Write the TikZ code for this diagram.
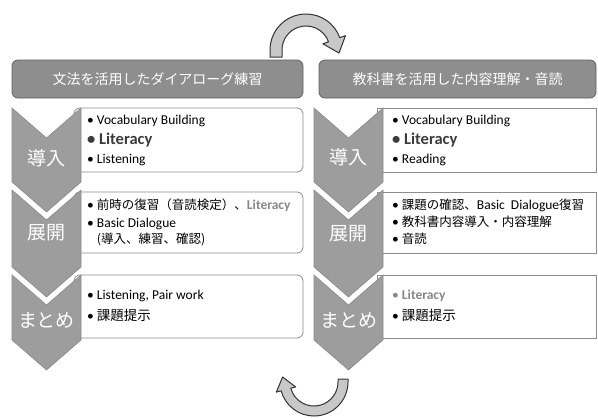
\documentclass[tikz,border=0pt]{standalone}
\usepackage{fontspec}
\setmainfont{Carlito}
\newfontfamily\jp{Noto Sans CJK JP}
\usepackage{xcolor}
\usepackage{tikz}
\usetikzlibrary{positioning,calc}

\definecolor{headfill}{HTML}{8E8E8E}
\definecolor{headline}{HTML}{5F5F5F}
\definecolor{chevfill}{HTML}{9D9D9D}
\definecolor{chevline}{HTML}{8A8A8A}
\definecolor{boxline}{HTML}{8C8C8C}
\definecolor{litdark}{HTML}{3C3C3C}
\definecolor{litgray}{HTML}{888888}
\definecolor{turnfill}{HTML}{C8C8C8}
\definecolor{turnline}{HTML}{333333}

\begin{document}
\begin{tikzpicture}[x=1pt, y=-1pt,
    head/.style={draw=headline, fill=headfill, rounded corners=6pt, minimum height=38pt, line width=0.8pt, text=white, font=\jp\fontsize{14}{16}\selectfont},
    lbox/.style={draw=boxline, fill=white, rounded corners=6pt, minimum width=229pt, line width=0.8pt},
    rbox/.style={draw=boxline, fill=white, minimum width=219pt, line width=0.8pt},
    chev/.style={fill=chevfill, draw=chevline, line width=0.6pt},
    stage/.style={text=white, font=\jp\fontsize{19}{22}\selectfont},
    item/.style={anchor=west, inner sep=0pt, font=\fontsize{13.5}{16}\selectfont},
    bigitem/.style={item, font=\fontsize{16.5}{18}\selectfont\bfseries, text=litdark},
    turn/.style={fill=turnfill, draw=turnline, line width=1pt, line join=round}
]
\useasboundingbox (0,0) rectangle (598,418);

% Headers
\node[head, minimum width=291pt] (lhead) at (157.5,79) {文法を活用したダイアローグ練習};
\node[head, minimum width=277pt] (rhead) at (457.5,79) {教科書を活用した内容理解・音読};

% Boxes
\node[lbox, minimum height=64pt] (lbox1) at (188.5,140) {};
\node[lbox, minimum height=61pt] (lbox2) at (188.5,222.5) {};
\node[lbox, minimum height=63pt] (lbox3) at (188.5,306.5) {};
\node[rbox, minimum height=64pt] (rbox1) at (486.5,140) {};
\node[rbox, minimum height=61pt] (rbox2) at (486.5,222.5) {};
\node[rbox, minimum height=63pt] (rbox3) at (486.5,306.5) {};

% Chevrons
\foreach \x in {12,314} {
  \foreach \t/\b in {108/182, 190/267, 275/340} {
    \draw[chev] (\x,\t) -- (\x+34.5,\t+30) -- (\x+69,\t) -- (\x+69,\b)
      -- (\x+34.5,\b+30) -- (\x,\b) -- cycle;
  }
}
\node[stage] (lintro) at (46.5,158) {導入};
\node[stage] (ldev) at (46.5,233) {展開};
\node[stage] (lsum) at (46.5,320) {まとめ};
\node[stage] (rintro) at (348.5,157) {導入};
\node[stage] (rdev) at (348.5,234) {展開};
\node[stage] (rsum) at (348.5,320) {まとめ};

% Left items
\node[item] (l11) at (87,121) {\textbullet\ Vocabulary Building};
\node[bigitem] (l12) at (87,140) {\textbullet\ Literacy};
\node[item] (l13) at (87,160) {\textbullet\ Listening};
\node[item] (l21) at (87,205) {\textbullet\ {\jp\fontsize{12.5}{14}\selectfont 前時の復習（音読検定）、}{\bfseries\color{litgray}Literacy}};
\node[item] (l22) at (87,224) {\textbullet\ Basic Dialogue};
\node[item] (l23) at (87,239) {\phantom{\textbullet\ }{\jp\fontsize{12.5}{14}\selectfont (導入、練習、確認)}};
\node[item] (l31) at (87,296) {\textbullet\ Listening, Pair work};
\node[item] (l32) at (87,315) {\textbullet\ {\jp\fontsize{13.5}{15}\selectfont 課題提示}};

% Right items
\node[item] (r11) at (392,121) {\textbullet\ Vocabulary Building};
\node[bigitem] (r12) at (392,140) {\textbullet\ Literacy};
\node[item] (r13) at (392,160) {\textbullet\ Reading};
\node[item] (r21) at (392,205) {\textbullet\ {\jp\fontsize{12.5}{14}\selectfont 課題の確認、}Basic\ \ Dialogue{\jp\fontsize{12.5}{14}\selectfont 復習}};
\node[item] (r22) at (392,222) {\textbullet\ {\jp\fontsize{12.5}{14}\selectfont 教科書内容導入・内容理解}};
\node[item] (r23) at (392,239) {\textbullet\ {\jp\fontsize{12.5}{14}\selectfont 音読}};
\node[item, text=litgray] (r31) at (392,296) {\textbullet\ \bfseries Literacy};
\node[item] (r32) at (392,315) {\textbullet\ {\jp\fontsize{13.5}{15}\selectfont 課題提示}};

% Turn arrows
\coordinate (topc) at (306,50);
\draw[turn] (270,57) -- (270,50) arc[start angle=180, end angle=340, radius=36]
  -- ($(topc)+(340:42)$) -- (339,53) -- ($(topc)+(340:18)$) -- ($(topc)+(340:24)$)
  arc[start angle=340, end angle=180, radius=24] -- (282,57) -- cycle;

\coordinate (botc) at (314,382);
\draw[turn] (348,379) -- (348,382) arc[start angle=0, end angle=165, radius=34]
  -- ($(botc)+(165:39)$) -- (282.6,377) -- ($(botc)+(165:19)$) -- ($(botc)+(165:24)$)
  arc[start angle=165, end angle=0, radius=24] -- (338,379) -- cycle;

\end{tikzpicture}
\end{document}
